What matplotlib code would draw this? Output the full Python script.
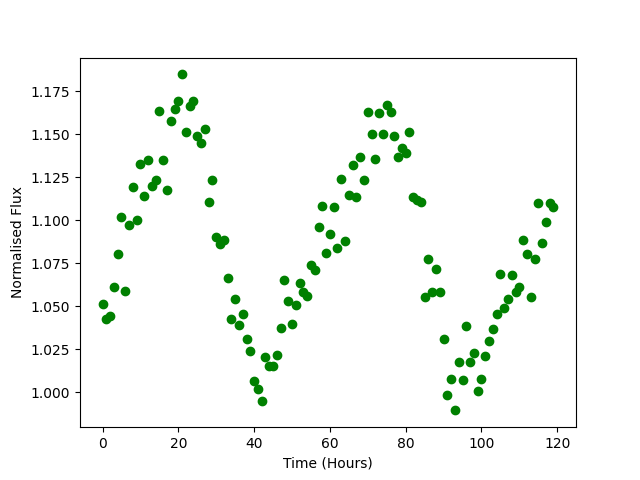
import matplotlib
matplotlib.use("Agg")
import matplotlib.pyplot as plt

time_hours = [0, 1, 2, 3, 4, 5, 6, 7, 8, 9, 10, 11, 12, 13, 14, 15, 16, 17, 18, 19,
              20, 21, 22, 23, 24, 25, 26, 27, 28, 29, 30, 31, 32, 33, 34, 35, 36, 37, 38, 39,
              40, 41, 42, 43, 44, 45, 46, 47, 48, 49, 50, 51, 52, 53, 54, 55, 56, 57, 58, 59,
              60, 61, 62, 63, 64, 65, 66, 67, 68, 69, 70, 71, 72, 73, 74, 75, 76, 77, 78, 79,
              80, 81, 82, 83, 84, 85, 86, 87, 88, 89, 90, 91, 92, 93, 94, 95, 96, 97, 98, 99,
              100, 101, 102, 103, 104, 105, 106, 107, 108, 109, 110, 111, 112, 113, 114, 115,
              116, 117, 118, 119]

flux = [1.0516, 1.0428, 1.0444, 1.0609, 1.0802, 1.1017, 1.0587, 1.0971, 1.1192, 1.1004,
        1.1324, 1.1143, 1.1347, 1.1199, 1.1233, 1.1632, 1.1347, 1.1173, 1.1574, 1.1644,
        1.1690, 1.1847, 1.1510, 1.1661, 1.1690, 1.1487, 1.1446, 1.1527, 1.1103, 1.1231,
        1.0903, 1.0864, 1.0887, 1.0667, 1.0428, 1.0545, 1.0394, 1.0457, 1.0312, 1.0242,
        1.0064, 1.0021, 0.9952, 1.0208, 1.0155, 1.0155, 1.0219, 1.0376, 1.0655, 1.0533,
        1.0399, 1.0510, 1.0638, 1.0585, 1.0562, 1.0742, 1.0708, 1.0958, 1.1080, 1.0812,
        1.0917, 1.1074, 1.0841, 1.1237, 1.0882, 1.1145, 1.1318, 1.1132, 1.1370, 1.1231,
        1.1626, 1.1498, 1.1353, 1.1620, 1.1498, 1.1669, 1.1626, 1.1492, 1.1370, 1.1422,
        1.1388, 1.1510, 1.1132, 1.1120, 1.1103, 1.0556, 1.0772, 1.0580, 1.0719, 1.0580,
        1.0312, 0.9987, 1.0080, 0.9895, 1.0178, 1.0074, 1.0384, 1.0178, 1.0231, 1.0010,
        1.0080, 1.0213, 1.0301, 1.0370, 1.0457, 1.0690, 1.0492, 1.0545, 1.0684, 1.0585,
        1.0609, 1.0887, 1.0806, 1.0551, 1.0777, 1.1097, 1.0870, 1.0987, 1.1097, 1.1074]

fig, ax = plt.subplots(figsize=(6.4, 4.8), dpi=100)
ax.plot(time_hours, flux, 'go')
ax.set_xlabel("Time (Hours)")
ax.set_ylabel("Normalised Flux")
fig.savefig("out.png")
